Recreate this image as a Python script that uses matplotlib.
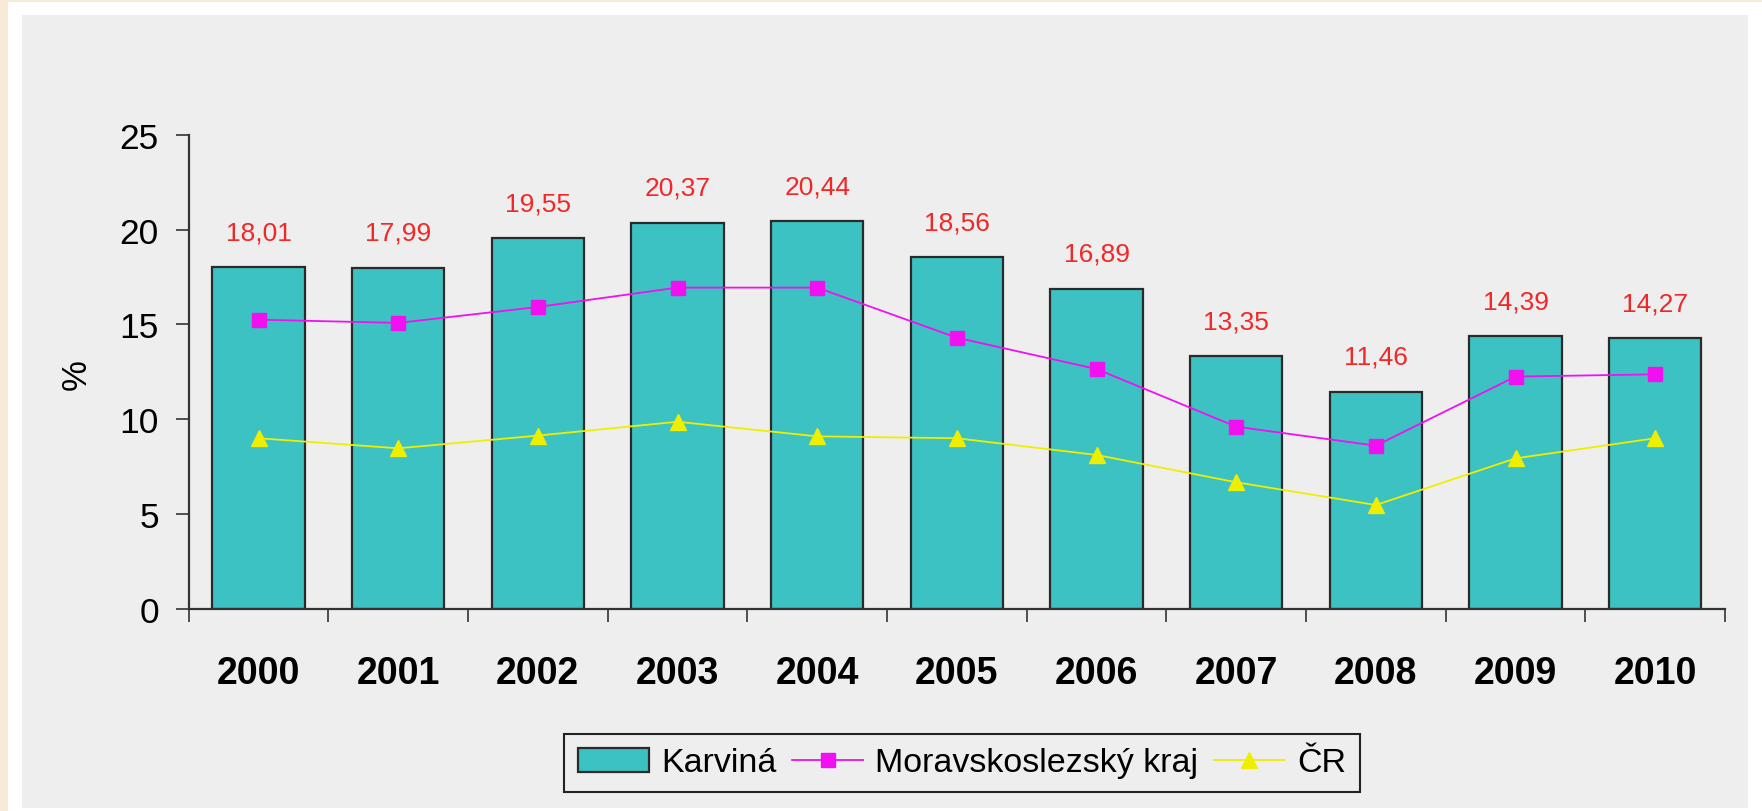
import numpy as np
import matplotlib
matplotlib.use("Agg")
import matplotlib.pyplot as plt
from matplotlib.patches import Rectangle

plt.rcParams['font.family'] = ['Liberation Sans', 'DejaVu Sans']

years = ["2000", "2001", "2002", "2003", "2004", "2005", "2006", "2007", "2008", "2009", "2010"]
karvina = [18.01, 17.99, 19.55, 20.37, 20.44, 18.56, 16.89, 13.35, 11.46, 14.39, 14.27]
msk = [15.25, 15.08, 15.92, 16.94, 16.94, 14.30, 12.65, 9.61, 8.61, 12.25, 12.37]
cr = [9.0, 8.47, 9.14, 9.87, 9.10, 9.0, 8.12, 6.68, 5.48, 7.94, 9.0]
series_names = ["Karviná", "Moravskoslezský kraj", "ČR"]
yticks = [0, 5, 10, 15, 20, 25]

W, H = 1762, 812
fig = plt.figure(figsize=(W / 100, H / 100), dpi=100)
fig.patch.set_facecolor("#F8EAD8")

# white frame and grey panel behind the chart (pixel boxes -> figure fractions)
def px_rect(x0, y0, x1, y1, color):
    r = Rectangle((x0 / W, 1 - y1 / H), (x1 - x0) / W, (y1 - y0) / H,
                  transform=fig.transFigure, facecolor=color, edgecolor="none", zorder=-10)
    fig.patches.append(r)

px_rect(8, 3, W, H, "white")
px_rect(22, 16, 1748, 809, "#EEEEEE")

ax = fig.add_axes([188.7 / W, 1 - 610 / H, (1725 - 188.7) / W, (610 - 135.7) / H])
ax.set_facecolor("none")

x = np.arange(len(years))
bars = ax.bar(x, karvina, width=0.66, color="#3CC2C2", edgecolor="#2A2A2A", linewidth=1.6,
              label=series_names[0], zorder=2)
l1, = ax.plot(x, msk, "-s", color="#F010F0", markersize=10, linewidth=1.3,
              label=series_names[1], zorder=3)
l2, = ax.plot(x, cr, "-^", color="#EEEE00", markersize=12, linewidth=1.3,
              label=series_names[2], zorder=3)

for xi, v in zip(x, karvina):
    ax.annotate(f"{v:.2f}".replace(".", ","), (xi, v), xytext=(0, 25),
                textcoords="offset points", ha="center", va="center",
                color="#F02828", fontsize=19)

ax.set_xlim(-0.5, len(years) - 0.5)
ax.set_ylim(0, 25)
ax.set_yticks(yticks)
ax.set_yticklabels([str(t) for t in yticks], fontsize=25.5)
ax.tick_params(axis="y", length=9.4, width=1.2, color="#333333", pad=12)

ax.set_xticks(x)
ax.set_xticklabels(years, fontsize=27, fontweight="bold")
ax.set_xticks(np.arange(len(years) + 1) - 0.5, minor=True)
ax.tick_params(axis="x", which="major", length=0, pad=33)
ax.tick_params(axis="x", which="minor", length=9.4, width=1.2, color="#333333")

for s in ["top", "right"]:
    ax.spines[s].set_visible(False)
for s in ["left", "bottom"]:
    ax.spines[s].set_color("#333333")
    ax.spines[s].set_linewidth(1.6)

fig.text(76.7 / W, 1 - 375 / H, "%", rotation=90, ha="center", va="center", fontsize=25)

leg = ax.legend(handles=[bars, l1, l2], loc="center", bbox_to_anchor=(962 / W, 1 - 764 / H),
                bbox_transform=fig.transFigure, ncol=3, fontsize=24.5, frameon=True,
                fancybox=False, edgecolor="#222222", facecolor="#EEEEEE",
                handlelength=2.1, handletextpad=0.35, columnspacing=0.45, borderpad=0.4)
leg.get_frame().set_linewidth(1.5)
leg.get_frame().set_alpha(None)

plt.savefig("out.png", dpi=100, facecolor=fig.get_facecolor())
